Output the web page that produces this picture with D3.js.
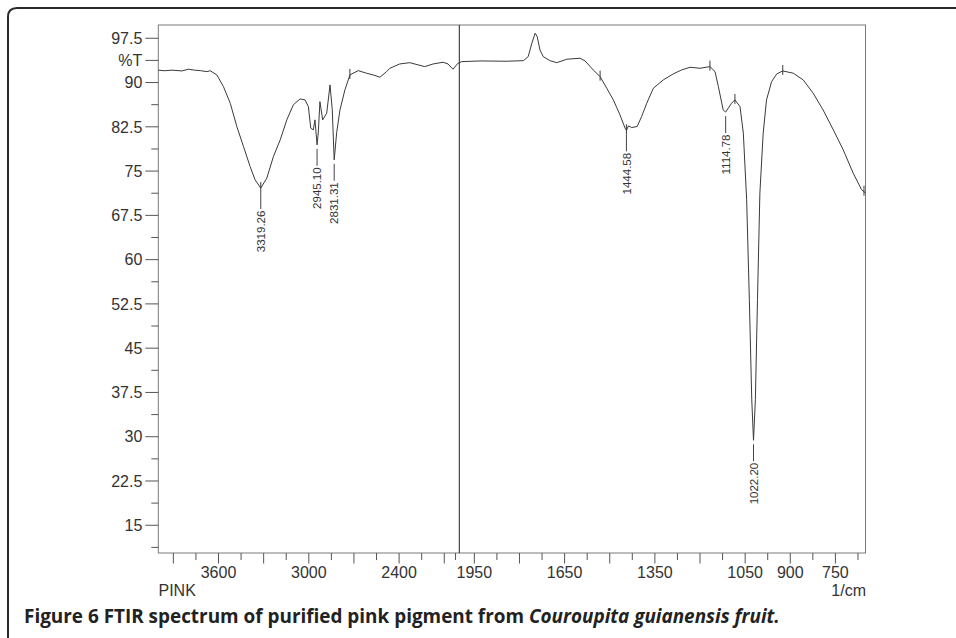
<!DOCTYPE html>
<html>
<head>
<meta charset="utf-8">
<script src="https://cdn.jsdelivr.net/npm/d3@7"></script>
<style>
  body { margin: 0; background: #fff; }
  svg { display: block; }
</style>
</head>
<body>
<svg id="chart" width="956" height="638"></svg>
<script>
// spectrum (cm-1, %T)
const wavenumber = [4000, 3960, 3909, 3843, 3799, 3760, 3721, 3677, 3655, 3611, 3567, 3522, 3478, 3434, 3390, 3357,
    3319.26, 3279, 3235, 3190, 3146, 3103, 3058, 3025, 3003, 2987, 2970, 2959, 2945.10, 2937, 2926, 2908, 2881,
    2859, 2844, 2831.31, 2815, 2793, 2760, 2727, 2672, 2616, 2572, 2528, 2483, 2461, 2396, 2329, 2230, 2174, 2108,
    2075, 2042, 2009, 1992, 1931, 1842, 1787, 1771, 1759, 1748, 1741, 1732, 1721, 1699, 1676, 1643, 1599, 1582,
    1555, 1532, 1510, 1488, 1466, 1449, 1444.58, 1438, 1427, 1409, 1394, 1377, 1355, 1322, 1289, 1261, 1233, 1200,
    1167, 1150, 1139, 1123, 1114.78, 1095, 1084, 1067, 1056, 1045, 1036, 1028, 1022.20, 1016, 1009, 1001, 990, 979,
    962, 945, 925, 890, 857, 824, 791, 757, 724, 691, 663, 650];
const transmittance = [92.1, 92.0, 92.1, 91.97, 92.26, 92.1, 92.02, 91.85, 92.0, 91.29, 89.31, 86.5, 82.54, 79.16,
    75.78, 73.53, 72.12, 73.81, 77.47, 80.29, 83.68, 86.22, 87.23, 87.06, 85.93, 82.27, 81.99, 83.68, 79.45, 81.48,
    86.77, 83.68, 84.81, 89.6, 85.37, 76.91, 81.48, 85.37, 88.75, 91.29, 92.02, 91.58, 91.29, 90.9, 91.85, 92.42,
    93.15, 93.37, 92.7, 93.15, 93.44, 93.15, 92.26, 93.27, 93.54, 93.66, 93.61, 93.71, 94.39, 96.65, 98.35, 97.77,
    95.52, 94.39, 93.71, 93.37, 93.95, 94.12, 93.66, 92.14, 91.0, 89.04, 87.06, 84.52, 82.27, 81.9, 82.66, 82.38,
    82.55, 84.24, 86.5, 89.04, 90.45, 91.46, 92.14, 92.59, 92.42, 92.7, 91.85, 89.31, 85.37, 85.0, 86.5, 87.06,
    85.93, 81.43, 70.14, 53.2, 36.3, 29.4, 36.3, 53.2, 71.3, 81.43, 87.06, 90.16, 91.46, 91.97, 91.58, 90.45, 88.2,
    85.37, 81.99, 78.6, 74.66, 71.84, 71.3];

const peakWn = [3319.26, 2945.10, 2831.31, 1444.58, 1114.78, 1022.20];
const peakT = [72.12, 79.45, 76.91, 81.9, 85.0, 29.4];
const peakLabels = ["3319.26", "2945.10", "2831.31", "1444.58", "1114.78", "1022.20"];

// small vertical marks on the trace
const markWn = [3319.26, 2727, 1532, 1444.58, 1167, 1084, 925, 655];

const yMajor = [15, 22.5, 30, 37.5, 45, 52.5, 60, 67.5, 75, 82.5, 90, 97.5];
const yMinor = [11.25, 18.75, 26.25, 33.75, 41.25, 48.75, 56.25, 63.75, 71.25, 78.75, 86.25];
const yUnitTick = 93.75; // carries the "%T" label
const xTicksLeft = [3900, 3750, 3600, 3450, 3300, 3150, 3000, 2850, 2700, 2550, 2400, 2250, 2100, 2025];
const xTicksRight = [1950, 1875, 1800, 1725, 1650, 1575, 1500, 1425, 1350, 1275, 1200, 1125, 1050, 975, 900, 825, 750, 675];
const xLongTicks = [3900, 3600, 3300, 3000, 2700, 2400, 2100, 1950, 1800, 1650, 1500, 1350, 1200, 1050, 900, 750];
const xLabels = [3600, 3000, 2400, 1950, 1650, 1350, 1050, 900, 750];

const svg = d3.select("#chart");
const plotLeft = 158.3, plotRight = 865.5, plotTop = 25, plotBottom = 553;
const ink = "#333";
const font = "'Liberation Sans', Arial, sans-serif";

// FTIR axis changes scale at 2000 cm-1
const x = d3.scaleLinear()
    .domain([4000, 2000, 650])
    .range([plotLeft, 459.3, plotRight]);
const y = d3.scaleLinear()
    .domain([10.3, 99.75])
    .range([plotBottom, plotTop]);

// outer rounded frame
svg.append("path")
    .attr("d", "M8,640 V17 Q8,8 17,8 H956")
    .attr("fill", "none")
    .attr("stroke", "#2a2a2a")
    .attr("stroke-width", 2);

// plot box
svg.append("rect")
    .attr("x", plotLeft).attr("y", plotTop)
    .attr("width", plotRight - plotLeft).attr("height", plotBottom - plotTop)
    .attr("fill", "none")
    .attr("stroke", "#7a7a7a")
    .attr("stroke-width", 1);

svg.append("line")
    .attr("x1", x(2000)).attr("x2", x(2000))
    .attr("y1", plotTop).attr("y2", plotBottom)
    .attr("stroke", "#222")
    .attr("stroke-width", 1);

// y axis
const gy = svg.append("g");
gy.selectAll("line.maj")
    .data(yMajor.concat([yUnitTick]))
    .join("line")
    .attr("class", "maj")
    .attr("x1", plotLeft - 13).attr("x2", plotLeft)
    .attr("y1", d => y(d)).attr("y2", d => y(d))
    .attr("stroke", "#555");
gy.selectAll("line.min")
    .data(yMinor)
    .join("line")
    .attr("class", "min")
    .attr("x1", plotLeft - 7).attr("x2", plotLeft)
    .attr("y1", d => y(d)).attr("y2", d => y(d))
    .attr("stroke", "#555");
gy.selectAll("text")
    .data(yMajor.map(d => ({v: d, t: String(d)})).concat([{v: yUnitTick, t: "%T"}]))
    .join("text")
    .attr("x", plotLeft - 16)
    .attr("y", d => y(d.v))
    .attr("dy", "0.36em")
    .attr("text-anchor", "end")
    .attr("font-family", font)
    .attr("font-size", 16)
    .attr("fill", ink)
    .text(d => d.t);

// x axis
const gx = svg.append("g");
gx.selectAll("line")
    .data(xTicksLeft.concat(xTicksRight))
    .join("line")
    .attr("x1", d => x(d)).attr("x2", d => x(d))
    .attr("y1", plotBottom)
    .attr("y2", d => plotBottom + (xLongTicks.includes(d) ? 10.5 : 7))
    .attr("stroke", "#555");
gx.selectAll("text")
    .data(xLabels)
    .join("text")
    .attr("x", d => x(d))
    .attr("y", 578)
    .attr("text-anchor", "middle")
    .attr("font-family", font)
    .attr("font-size", 16)
    .attr("fill", ink)
    .text(d => d);

svg.append("text")
    .attr("x", 158.5).attr("y", 595.5)
    .attr("font-family", font).attr("font-size", 16).attr("fill", ink)
    .text("PINK");
svg.append("text")
    .attr("x", plotRight + 0.5).attr("y", 595.5)
    .attr("text-anchor", "end")
    .attr("font-family", font).attr("font-size", 16).attr("fill", ink)
    .text("1/cm");

// spectrum
const points = wavenumber.map((w, i) => [w, transmittance[i]]);
const line = d3.line()
    .x(d => x(d[0]))
    .y(d => y(d[1]));
svg.append("path")
    .datum(points)
    .attr("d", line)
    .attr("fill", "none")
    .attr("stroke", "#3a3a3a")
    .attr("stroke-width", 1);

// marks on trace
const tAt = w => {
    const i = wavenumber.findIndex(v => v <= w);
    if (i <= 0) return transmittance[Math.max(i, 0)];
    const w0 = wavenumber[i - 1], w1 = wavenumber[i];
    const f = (w0 - w) / (w0 - w1);
    return transmittance[i - 1] + f * (transmittance[i] - transmittance[i - 1]);
};
svg.selectAll("line.mark")
    .data(markWn)
    .join("line")
    .attr("class", "mark")
    .attr("x1", d => x(d)).attr("x2", d => x(d))
    .attr("y1", d => y(tAt(d)) - 6)
    .attr("y2", d => y(tAt(d)) + 4)
    .attr("stroke", "#3a3a3a");

// peak labels
const peaks = peakWn.map((w, i) => ({w: w, t: peakT[i], label: peakLabels[i]}));
const gp = svg.append("g");
gp.selectAll("line")
    .data(peaks)
    .join("line")
    .attr("x1", d => x(d.w)).attr("x2", d => x(d.w))
    .attr("y1", d => y(d.t) + 4)
    .attr("y2", d => y(d.t) + 21)
    .attr("stroke", "#444");
gp.selectAll("text")
    .data(peaks)
    .join("text")
    .attr("transform", d => `translate(${x(d.w)},${y(d.t) + 22.5}) rotate(-90)`)
    .attr("dy", "0.36em")
    .attr("text-anchor", "end")
    .attr("font-family", font)
    .attr("font-size", 11.5)
    .attr("fill", ink)
    .text(d => d.label);

// caption
const cap = svg.append("text")
    .attr("x", 24).attr("y", 623)
    .attr("font-family", "'Open Sans', 'Noto Sans', sans-serif")
    .attr("font-size", 15)
    .attr("font-weight", 700)
    .attr("fill", "#222");
cap.append("tspan").text("Figure 6 FTIR spectrum of purified pink pigment from ");
cap.append("tspan").attr("font-style", "italic").text("Couroupita guianensis fruit.");
const capW = cap.node().getComputedTextLength();
cap.attr("font-size", 15 * 756 / capW);
</script>
</body>
</html>
